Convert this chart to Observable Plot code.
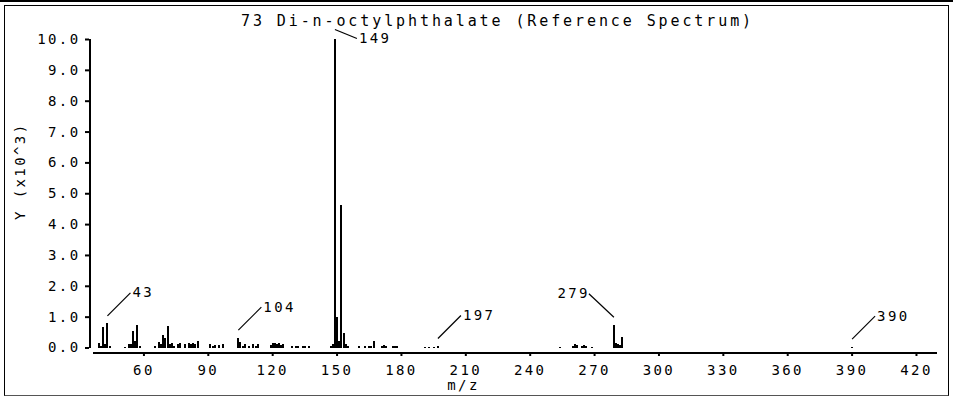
<!DOCTYPE html>
<html>
<head>
<meta charset="utf-8">
<script src="https://cdn.jsdelivr.net/npm/d3@7"></script>
<script src="https://cdn.jsdelivr.net/npm/@observablehq/plot@0.6"></script>
<style>
  html, body { margin: 0; padding: 0; background: #fff; }
  #wrap { position: relative; width: 953px; height: 397px; overflow: hidden; background: #fff; }
  #topline { position: absolute; left: 0; top: 0; width: 953px; height: 2px; background: #000; }
  #box { position: absolute; left: 4px; top: 5px; width: 943px; height: 389px; border: 1px solid #000; border-bottom-color: #555; }
  #chart { position: absolute; left: 0; top: 0; }
  #chart svg text { letter-spacing: 2.4px; }
  #chart svg text.title-text { letter-spacing: 2.9px; }
</style>
</head>
<body>
<div id="wrap">
  <div id="topline"></div>
  <div id="box"></div>
  <div id="chart"></div>
</div>
<script>
// ---- data ----
const title = "73 Di-n-octylphthalate (Reference Spectrum)";
const xTitle = "m/z";
const yTitle = "Y (x10^3)";
const xTicks = [60, 90, 120, 150, 180, 210, 240, 270, 300, 330, 360, 390, 420];
const yTicks = [0, 1, 2, 3, 4, 5, 6, 7, 8, 9, 10];
const mz = [
  39, 40, 41, 42, 43, 44, 51, 53, 54, 55, 56, 57, 58,
  65, 67, 68, 69, 70, 71, 72, 73, 74, 76, 77, 79, 81, 82, 83, 84, 85,
  91, 92, 93, 95, 97,
  104, 105, 106, 107, 109, 111, 112, 113,
  119, 120, 121, 122, 123, 124, 125, 129, 131, 132, 134, 135, 137,
  147, 148, 149, 150, 151, 152, 153, 154, 155,
  160, 163, 165, 166, 167, 171, 172, 173, 176, 177, 178,
  191, 193, 195, 197,
  254, 260, 261, 262, 264, 265, 266, 269,
  279, 280, 281, 282, 283,
  390
];
const abundance = [ // in units of 10^3
  0.15, 0.05, 0.65, 0.12, 0.78, 0.05, 0.03, 0.10, 0.12, 0.55, 0.22, 0.72, 0.05,
  0.06, 0.18, 0.12, 0.42, 0.32, 0.70, 0.10, 0.15, 0.05, 0.12, 0.14, 0.12, 0.15, 0.10, 0.16, 0.12, 0.20,
  0.10, 0.04, 0.07, 0.08, 0.10,
  0.32, 0.18, 0.05, 0.12, 0.06, 0.10, 0.06, 0.12,
  0.08, 0.14, 0.16, 0.12, 0.16, 0.08, 0.10, 0.05, 0.05, 0.04, 0.05, 0.04, 0.05,
  0.06, 0.12, 10.0, 0.98, 0.22, 4.62, 0.46, 0.10, 0.04,
  0.04, 0.04, 0.05, 0.06, 0.22, 0.05, 0.08, 0.04, 0.04, 0.04, 0.04,
  0.03, 0.03, 0.03, 0.05,
  0.03, 0.05, 0.12, 0.08, 0.06, 0.08, 0.05, 0.03,
  0.72, 0.14, 0.10, 0.08, 0.34,
  0.03
];
const labeledPeaks = [43, 104, 149, 197, 279, 390];
const leaderDirection = ["upRight", "upRight", "downRight", "upRight", "upLeft", "upRight"];

// ---- build ----
const peaks = mz.map((m, i) => ({mz: m, v: abundance[i]}));

const W = 953, H = 397;
const mL = 93, mR = 16, mT = 39, mB = 45;
const xDomain = [36.5, 429.8];
const yRange = [347.5, 39];
const kx = (W - mL - mR) / (xDomain[1] - xDomain[0]); // px per m/z unit
const ky = (yRange[0] - yRange[1]) / 10;             // px per 10^3

// leader geometry in pixels, converted to data units
const geom = {
  upRight:   {sx: 0, sy: 8,   ex: 23,  ey: 31, anchor: "start"},
  upLeft:    {sx: 0, sy: 8.6, ex: -25, ey: 32, anchor: "end"},
  downRight: {sx: 0, sy: 10,  ex: 22,  ey: 1,  anchor: "start"}
};
const leaders = labeledPeaks.map((m, i) => {
  const v = abundance[mz.indexOf(m)];
  const g = geom[leaderDirection[i]];
  return {
    label: String(m),
    x1: m + g.sx / kx, y1: v + g.sy / ky,
    x2: m + g.ex / kx, y2: v + g.ey / ky,
    anchor: g.anchor
  };
});

const font = "'DejaVu Sans Mono', 'Liberation Mono', monospace";

const chart = Plot.plot({
  width: W,
  height: H,
  marginLeft: mL,
  marginRight: mR,
  marginTop: mT,
  marginBottom: mB,
  style: {fontFamily: font, fontSize: "14px", background: "transparent", color: "#000", overflow: "visible"},
  x: {domain: xDomain},
  y: {domain: [0, 10], range: yRange},
  marks: [
    // bars
    Plot.ruleX(peaks, {x: "mz", y1: 0, y2: "v", stroke: "#000", strokeWidth: 2, shapeRendering: "crispEdges"}),
    // axes
    Plot.ruleY([0], {dy: 4.5, stroke: "#000", strokeWidth: 2, shapeRendering: "crispEdges"}),
    Plot.ruleX([xDomain[0]], {y1: 0, y2: 10, dx: -4, stroke: "#000", strokeWidth: 2, shapeRendering: "crispEdges"}),
    Plot.axisX({ticks: xTicks, tickSize: 4, tickPadding: 9, tickFormat: d => String(d), label: null, strokeWidth: 2, fontSize: 14}),
    Plot.axisY({ticks: yTicks, tickSize: 4, tickPadding: 5, tickFormat: d => d.toFixed(1), label: null, dx: -4, strokeWidth: 2, fontSize: 14}),
    // leaders and peak labels
    Plot.link(leaders, {x1: "x1", y1: "y1", x2: "x2", y2: "y2", stroke: "#000", strokeWidth: 1.2, clip: false}),
    Plot.text(leaders.filter(d => d.anchor === "start"), {x: "x2", y: "y2", text: "label", textAnchor: "start", dx: 2, fontSize: 14}),
    Plot.text(leaders.filter(d => d.anchor === "end"), {x: "x2", y: "y2", text: "label", textAnchor: "end", dx: 1, fontSize: 14}),
    // titles
    Plot.text([title], {frameAnchor: "top", dx: -18, dy: -24, fontSize: 15, className: "title-text"}),
    Plot.text([xTitle], {frameAnchor: "bottom", dx: -52, dy: 37, fontSize: 14}),
    Plot.text([yTitle], {frameAnchor: "left", rotate: -90, dx: -73, dy: 24, fontSize: 14})
  ]
});
// title letter spacing
chart.querySelectorAll("text").forEach(t => { if (t.textContent === title) t.style.letterSpacing = "2.9px"; });
document.getElementById("chart").appendChild(chart);
</script>
</body>
</html>
